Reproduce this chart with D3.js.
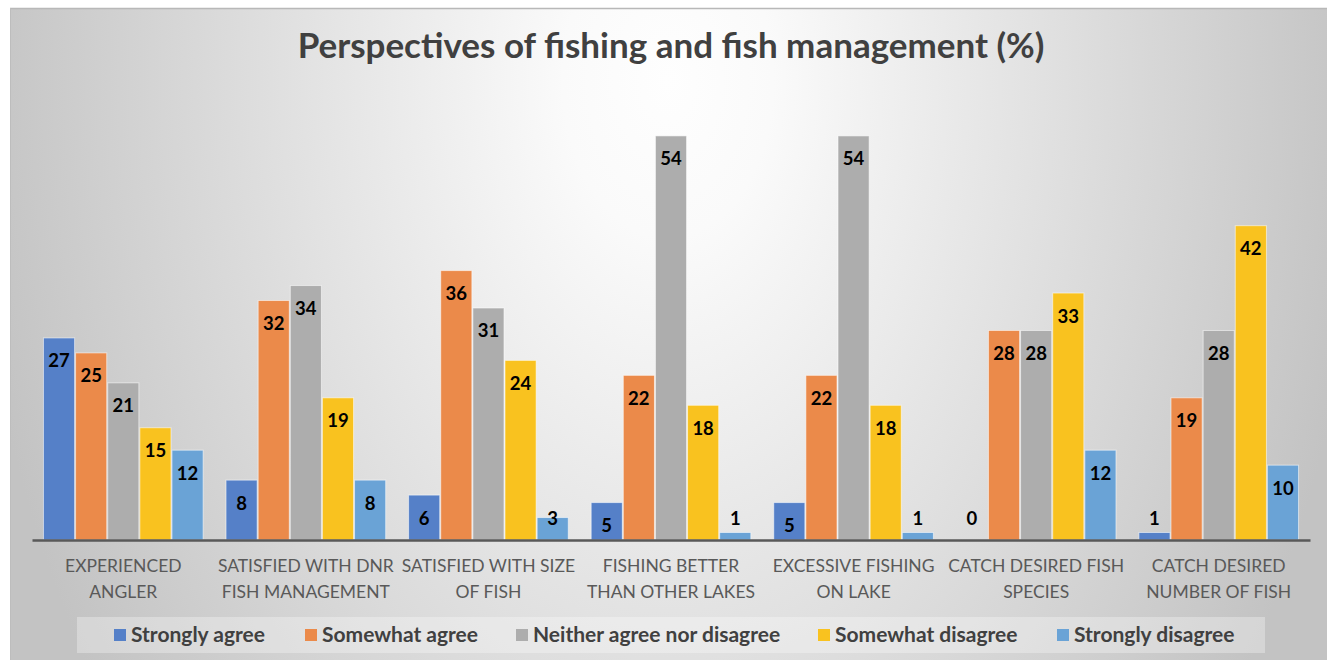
<!DOCTYPE html>
<html>
<head>
<meta charset="utf-8">
<script src="https://cdn.jsdelivr.net/npm/d3@7"></script>
<style>
  html, body { margin: 0; padding: 0; background: #ffffff; }
  svg { display: block; }
</style>
</head>
<body>
<svg id="chart" width="1327" height="660"></svg>
<script>
// ---------- data ----------
const title = "Perspectives of fishing and fish management (%)";
const categories = [
  "EXPERIENCED ANGLER",
  "SATISFIED WITH DNR FISH MANAGEMENT",
  "SATISFIED WITH SIZE OF FISH",
  "FISHING BETTER THAN OTHER LAKES",
  "EXCESSIVE FISHING ON LAKE",
  "CATCH DESIRED FISH SPECIES",
  "CATCH DESIRED NUMBER OF FISH"
];
const categoryLines = [
  ["EXPERIENCED", "ANGLER"],
  ["SATISFIED WITH DNR", "FISH MANAGEMENT"],
  ["SATISFIED WITH SIZE", "OF FISH"],
  ["FISHING BETTER", "THAN OTHER LAKES"],
  ["EXCESSIVE FISHING", "ON LAKE"],
  ["CATCH DESIRED FISH", "SPECIES"],
  ["CATCH DESIRED", "NUMBER OF FISH"]
];
const seriesNames = ["Strongly agree", "Somewhat agree", "Neither agree nor disagree", "Somewhat disagree", "Strongly disagree"];
const stronglyAgree    = [27, 8, 6, 5, 5, 0, 1];
const somewhatAgree    = [25, 32, 36, 22, 22, 28, 19];
const neither          = [21, 34, 31, 54, 54, 28, 28];
const somewhatDisagree = [15, 19, 24, 18, 18, 33, 42];
const stronglyDisagree = [12, 8, 3, 1, 1, 12, 10];
const seriesValues = [stronglyAgree, somewhatAgree, neither, somewhatDisagree, stronglyDisagree];
const seriesColors = ["#5580C8", "#EB8A4A", "#ADADAD", "#F9C21F", "#6AA3D6"];

// ---------- layout ----------
const svg = d3.select("#chart");
const W = 1327, H = 660;
const frame = {x: 10, y: 8, w: 1317, h: 652};
const plot = {left: 32, right: 1310, base: 540, top: 91};

const defs = svg.append("defs");
const grad = defs.append("radialGradient")
  .attr("id", "bg")
  .attr("gradientUnits", "userSpaceOnUse")
  .attr("cx", 668).attr("cy", 80).attr("r", 700)
  .attr("gradientTransform", "translate(668,80) scale(1,1.5) translate(-668,-80)");
grad.append("stop").attr("offset", 0).attr("stop-color", "#fefefe");
grad.append("stop").attr("offset", 0.15).attr("stop-color", "#fafafa");
grad.append("stop").attr("offset", 1).attr("stop-color", "#c3c3c3");

svg.append("rect").attr("x", 0).attr("y", 0).attr("width", W).attr("height", H).attr("fill", "#ffffff");
svg.append("rect")
  .attr("x", frame.x).attr("y", frame.y).attr("width", frame.w).attr("height", frame.h)
  .attr("fill", "url(#bg)");
svg.append("line").attr("x1", frame.x).attr("x2", W).attr("y1", frame.y + 0.5).attr("y2", frame.y + 0.5)
  .attr("stroke", "#b8b8b8").attr("stroke-width", 1.5);
svg.append("line").attr("x1", frame.x + 0.5).attr("x2", frame.x + 0.5).attr("y1", frame.y).attr("y2", H)
  .attr("stroke", "#bdbdbd").attr("stroke-width", 1);

// title
const titleText = svg.append("text")
  .attr("x", 671).attr("y", 58)
  .attr("text-anchor", "middle")
  .attr("font-family", "Lato, 'Open Sans', sans-serif")
  .attr("font-weight", "bold")
  .attr("font-size", 30)
  .attr("fill", "#404040")
  .text(title);
{
  const len = titleText.node().getComputedTextLength();
  titleText.attr("font-size", 30 * 747 / len);
}

// scales
const x0 = d3.scaleBand().domain(categories).range([plot.left, plot.right]).paddingInner(0.12).paddingOuter(0.06);
const x1 = d3.scaleBand().domain(seriesNames).range([0, x0.bandwidth()]).padding(0);
const y = d3.scaleLinear().domain([0, 60]).range([plot.base, plot.top]);

// bars
const groups = svg.append("g").selectAll("g")
  .data(categories)
  .join("g")
  .attr("transform", d => `translate(${x0(d)},0)`);

groups.each(function(cat, ci) {
  const g = d3.select(this);
  const data = seriesNames.map((s, si) => ({s, si, v: seriesValues[si][ci]}));
  g.selectAll("rect")
    .data(data.filter(d => d.v > 0))
    .join("rect")
    .attr("x", d => x1(d.s) + 0.5)
    .attr("width", x1.bandwidth() - 1)
    .attr("y", d => y(d.v))
    .attr("height", d => y(0) - y(d.v))
    .attr("fill", d => seriesColors[d.si])
    .attr("stroke", "rgba(255,255,255,0.55)")
    .attr("stroke-width", 1);
  g.selectAll("text")
    .data(data)
    .join("text")
    .attr("x", d => x1(d.s) + x1.bandwidth() / 2)
    .attr("y", d => {
      const h = y(0) - y(d.v);
      return h >= 30 ? y(d.v) + 23 : plot.base - 21;
    })
    .attr("dy", "0.35em")
    .attr("text-anchor", "middle")
    .attr("font-family", "Lato, 'Open Sans', sans-serif")
    .attr("font-weight", "bold")
    .attr("font-size", 18.5)
    .attr("fill", "#000000")
    .text(d => d.v);
});

// x axis
const axis = svg.append("g")
  .attr("transform", `translate(0,${plot.base})`)
  .call(d3.axisBottom(x0).tickSize(0).tickSizeOuter(0));
axis.select(".domain").attr("stroke", "#595959").attr("stroke-width", 2.5);
axis.selectAll(".tick text").each(function(d, i) {
  const t = d3.select(this);
  t.text(null)
    .attr("y", 0).attr("dy", null)
    .attr("font-family", "Lato, 'Open Sans', sans-serif")
    .attr("font-size", 17.5)
    .attr("fill", "#595959");
  categoryLines[i].forEach((line, li) => {
    t.append("tspan").attr("x", 0).attr("y", 32 + li * 26).text(line);
  });
});

// legend
const legend = svg.append("g");
legend.append("rect")
  .attr("x", 77).attr("y", 617).attr("width", 1188).attr("height", 36)
  .attr("fill", "#ffffff").attr("fill-opacity", 0.3);
const legendX = [114, 305, 516, 818, 1057];
seriesNames.forEach((s, i) => {
  legend.append("rect")
    .attr("x", legendX[i]).attr("y", 629).attr("width", 12).attr("height", 12)
    .attr("fill", seriesColors[i]);
  legend.append("text")
    .attr("x", legendX[i] + 17).attr("y", 635)
    .attr("dy", "0.35em")
    .attr("font-family", "Lato, 'Open Sans', sans-serif")
    .attr("font-weight", "bold")
    .attr("font-size", 21)
    .attr("fill", "#404040")
    .text(s);
});
</script>
</body>
</html>
